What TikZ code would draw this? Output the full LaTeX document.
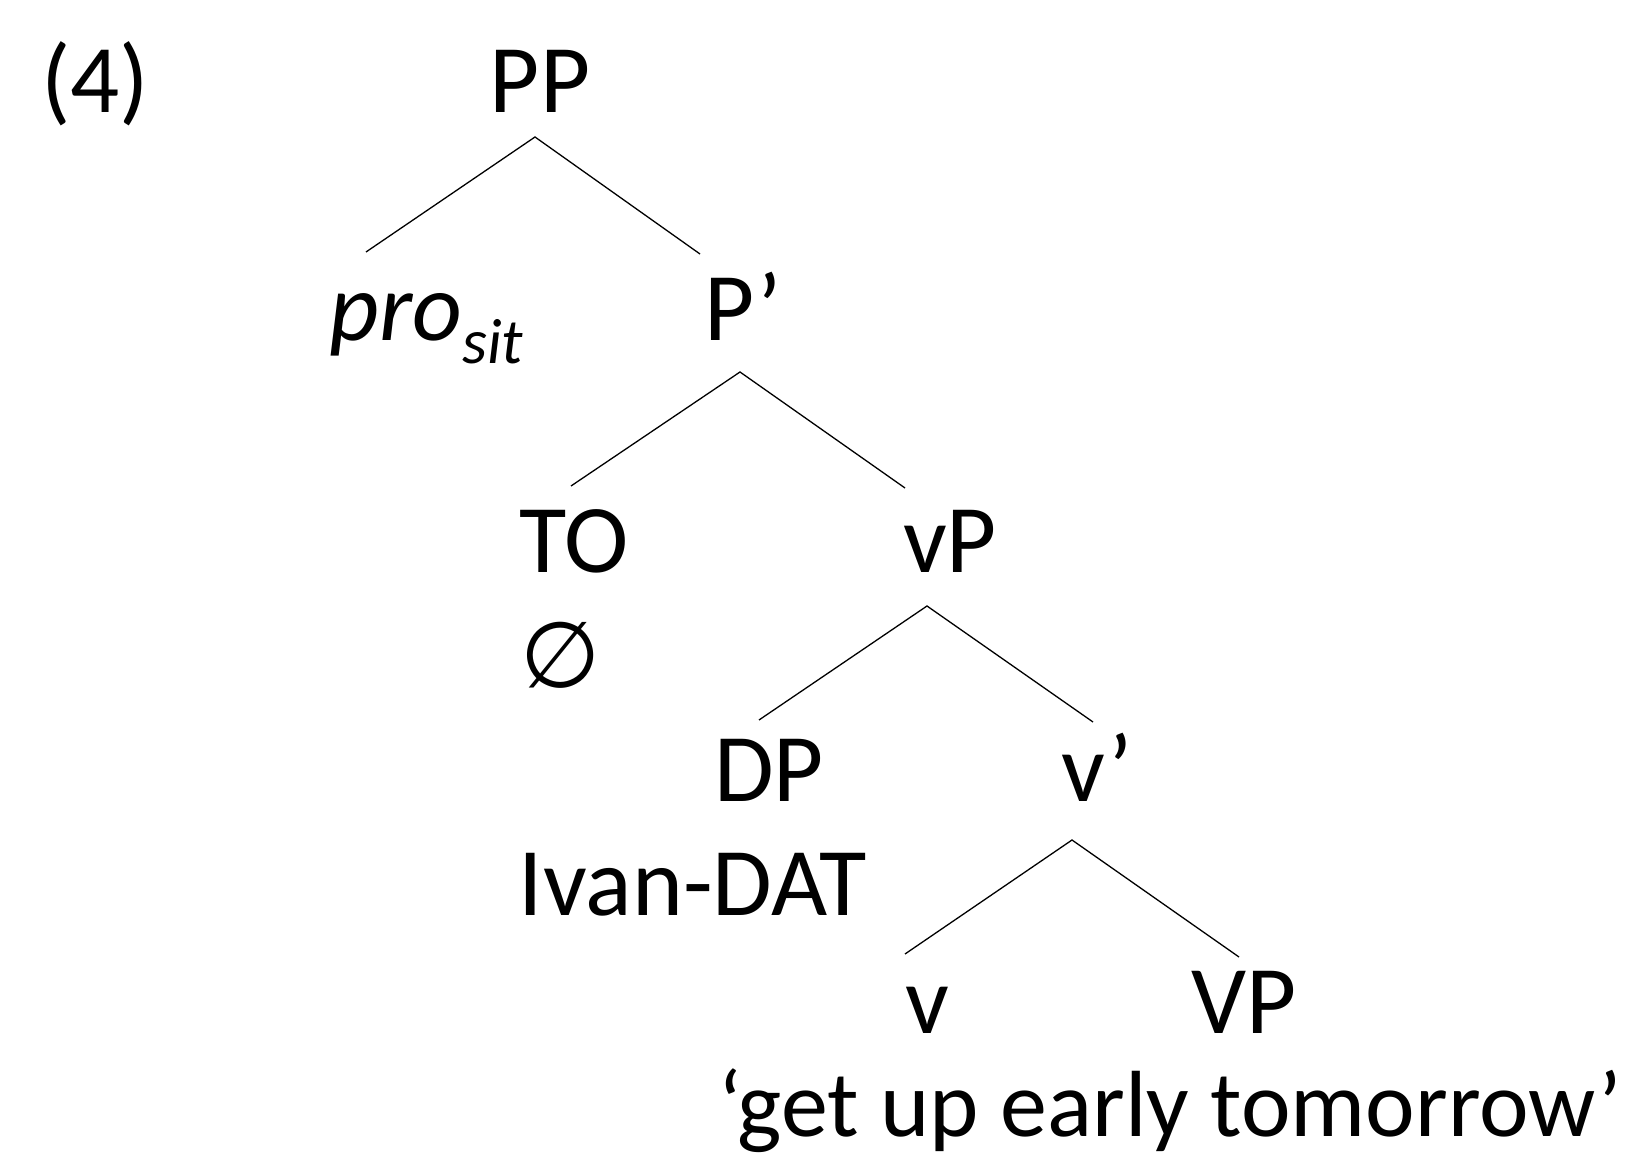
\documentclass[tikz,border=0pt]{standalone}
\usepackage{fontspec}
\setmainfont{Carlito}
\newfontfamily\symfont{DejaVu Sans}
\begin{document}
\begin{tikzpicture}[x=1pt,y=-1pt,
  lbl/.style={anchor=base,inner sep=0pt,font=\fontsize{97}{110}\selectfont},
  branch/.style={line width=1.3pt}]
\useasboundingbox (0,0) rectangle (1631,1155);
% labels
\node[lbl] (ex) at (95,113) {(4)};
\node[lbl] (PP) at (540,113) {PP};
\node[lbl,anchor=base west] (pro) at (329,341) {\itshape pro\raisebox{-23pt}{\fontsize{64}{70}\selectfont sit}};
\node[lbl] (Pbar) at (743,341) {P’};
\node[lbl] (TO) at (574,572) {TO};
\node[inner sep=0pt,font=\symfont\fontsize{92}{100}\selectfont] (null) at (561,655) {∅};
\node[lbl] (vP) at (950,572) {vP};
\node[lbl] (DP) at (769,801) {DP};
\node[lbl] (vbar) at (1097,801) {v’};
\node[lbl] (ivan) at (693,915) {Ivan-DAT};
\node[lbl] (v) at (927,1033) {v};
\node[lbl] (VP) at (1244,1033) {VP};
\node[lbl,anchor=base west,font=\fontsize{94}{110}\selectfont] (gloss) at (718,1136) {‘get up early tomorrow’};
% branch end points
\coordinate (PPa) at (535,137);  \coordinate (PPl) at (366,252);  \coordinate (PPr) at (700,254);
\coordinate (Pba) at (740,372);  \coordinate (Pbl) at (571,486);  \coordinate (Pbr) at (905,488);
\coordinate (vPa) at (927,606);  \coordinate (vPl) at (759,720);  \coordinate (vPr) at (1093,722);
\coordinate (vba) at (1072,840); \coordinate (vbl) at (905,954);  \coordinate (vbr) at (1239,957);
% branches
\draw[branch] (PPl) -- (PPa) -- (PPr);
\draw[branch] (Pbl) -- (Pba) -- (Pbr);
\draw[branch] (vPl) -- (vPa) -- (vPr);
\draw[branch] (vbl) -- (vba) -- (vbr);
\end{tikzpicture}
\end{document}
